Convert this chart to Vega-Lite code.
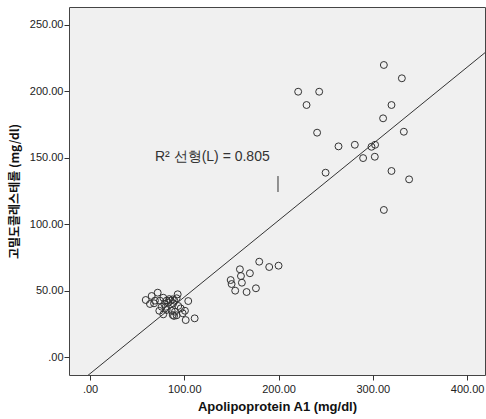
{
  "$schema": "https://vega.github.io/schema/vega-lite/v6.json",
  "autosize": {"type": "none"},
  "width": 416,
  "height": 368,
  "padding": {"left": 69, "top": 7, "right": 1, "bottom": 44},
  "background": "#ffffff",
  "config": {
    "view": {"fill": "#f0f0f0", "stroke": "#444444", "strokeWidth": 1},
    "axis": {
      "grid": false,
      "domain": false,
      "tickColor": "#333333",
      "tickSize": 5,
      "labelFont": "Liberation Sans",
      "labelFontSize": 11,
      "labelColor": "#222222",
      "titleFont": "Noto Sans CJK KR",
      "titleFontSize": 12,
      "titleFontWeight": "bold",
      "titleColor": "#111111"
    }
  },
  "layer": [
    {
      "data": {"values": [
        {"apo": 311.7, "hdl": 219.8}, {"apo": 330.8, "hdl": 209.8}, {"apo": 220.8, "hdl": 199.7},
        {"apo": 243.1, "hdl": 199.7}, {"apo": 229.7, "hdl": 189.7}, {"apo": 319.8, "hdl": 189.7},
        {"apo": 310.9, "hdl": 179.7}, {"apo": 240.9, "hdl": 168.9}, {"apo": 332.9, "hdl": 169.6},
        {"apo": 263.6, "hdl": 158.6}, {"apo": 280.9, "hdl": 159.8}, {"apo": 298.6, "hdl": 158.3},
        {"apo": 302.4, "hdl": 159.8}, {"apo": 289.7, "hdl": 149.8}, {"apo": 302.1, "hdl": 150.8},
        {"apo": 249.9, "hdl": 138.8}, {"apo": 319.8, "hdl": 140.1}, {"apo": 338.5, "hdl": 133.8},
        {"apo": 311.7, "hdl": 110.8},
        {"apo": 159.0, "hdl": 66.2}, {"apo": 179.5, "hdl": 71.9}, {"apo": 190.1, "hdl": 67.9},
        {"apo": 200.0, "hdl": 68.9}, {"apo": 169.6, "hdl": 63.2}, {"apo": 160.1, "hdl": 61.1},
        {"apo": 149.2, "hdl": 58.1}, {"apo": 150.2, "hdl": 55.1}, {"apo": 161.1, "hdl": 56.1},
        {"apo": 154.0, "hdl": 50.1}, {"apo": 166.1, "hdl": 49.1}, {"apo": 176.0, "hdl": 51.9},
        {"apo": 71.8, "hdl": 48.6}, {"apo": 93.0, "hdl": 47.4}, {"apo": 65.4, "hdl": 46.1},
        {"apo": 77.7, "hdl": 44.8}, {"apo": 84.1, "hdl": 43.8}, {"apo": 87.7, "hdl": 43.6},
        {"apo": 91.9, "hdl": 44.4}, {"apo": 59.1, "hdl": 43.1}, {"apo": 68.9, "hdl": 42.6},
        {"apo": 74.2, "hdl": 42.6}, {"apo": 81.3, "hdl": 42.6}, {"apo": 85.6, "hdl": 42.6},
        {"apo": 89.4, "hdl": 42.6}, {"apo": 104.2, "hdl": 42.3}, {"apo": 63.6, "hdl": 40.1},
        {"apo": 67.9, "hdl": 40.6}, {"apo": 78.8, "hdl": 40.1}, {"apo": 83.0, "hdl": 41.1},
        {"apo": 88.3, "hdl": 40.6}, {"apo": 93.6, "hdl": 38.6}, {"apo": 80.3, "hdl": 38.0},
        {"apo": 73.5, "hdl": 35.0}, {"apo": 81.3, "hdl": 35.6}, {"apo": 86.6, "hdl": 35.0},
        {"apo": 90.1, "hdl": 34.3}, {"apo": 100.7, "hdl": 35.0}, {"apo": 77.7, "hdl": 32.3},
        {"apo": 87.7, "hdl": 31.8}, {"apo": 89.1, "hdl": 31.1}, {"apo": 91.9, "hdl": 31.6},
        {"apo": 98.3, "hdl": 33.1}, {"apo": 101.5, "hdl": 28.0}, {"apo": 111.0, "hdl": 29.3},
        {"apo": 76.0, "hdl": 38.0}, {"apo": 96.2, "hdl": 36.8}
      ]},
      "mark": {"type": "point", "shape": "circle", "filled": false, "size": 48, "stroke": "#333333", "strokeWidth": 1, "opacity": 1},
      "encoding": {
        "x": {
          "field": "apo", "type": "quantitative",
          "scale": {"domain": [-22.3, 419], "nice": false, "zero": false},
          "axis": {
            "values": [0, 100, 200, 300, 400],
            "labelExpr": "datum.value == 0 ? '.00' : format(datum.value, '.2f')",
            "labelPadding": 3,
            "title": "Apolipoprotein A1 (mg/dl)",
            "titlePadding": 6,
            "titleFont": "Liberation Sans",
            "titleFontSize": 13
          }
        },
        "y": {
          "field": "hdl", "type": "quantitative",
          "scale": {"domain": [-13.3, 263.4], "nice": false, "zero": false},
          "axis": {
            "values": [0, 50, 100, 150, 200, 250],
            "labelExpr": "datum.value == 0 ? '.00' : format(datum.value, '.2f')",
            "labelPadding": 1,
            "title": "고밀도콜레스테롤 (mg/dl)",
            "titlePadding": 8
          }
        }
      }
    },
    {
      "data": {"values": [{"apo": -30, "hdl": -29.6}, {"apo": 430, "hdl": 235.4}]},
      "mark": {"type": "line", "color": "#333333", "strokeWidth": 1, "clip": true},
      "encoding": {
        "x": {"field": "apo", "type": "quantitative"},
        "y": {"field": "hdl", "type": "quantitative"}
      }
    },
    {
      "data": {"values": [{"apo": 68.9, "hdl": 150.6, "label": "R² 선형(L) = 0.805"}]},
      "mark": {"type": "text", "align": "left", "baseline": "middle", "font": "Liberation Sans", "fontSize": 14, "color": "#333333"},
      "encoding": {
        "x": {"field": "apo", "type": "quantitative"},
        "y": {"field": "hdl", "type": "quantitative"},
        "text": {"field": "label"}
      }
    },
    {
      "data": {"values": [{"apo": 199.4, "hdl": 136.3, "hdl2": 124.3}]},
      "mark": {"type": "rule", "color": "#333333", "strokeWidth": 1},
      "encoding": {
        "x": {"field": "apo", "type": "quantitative"},
        "y": {"field": "hdl", "type": "quantitative"},
        "y2": {"field": "hdl2"}
      }
    }
  ]
}
